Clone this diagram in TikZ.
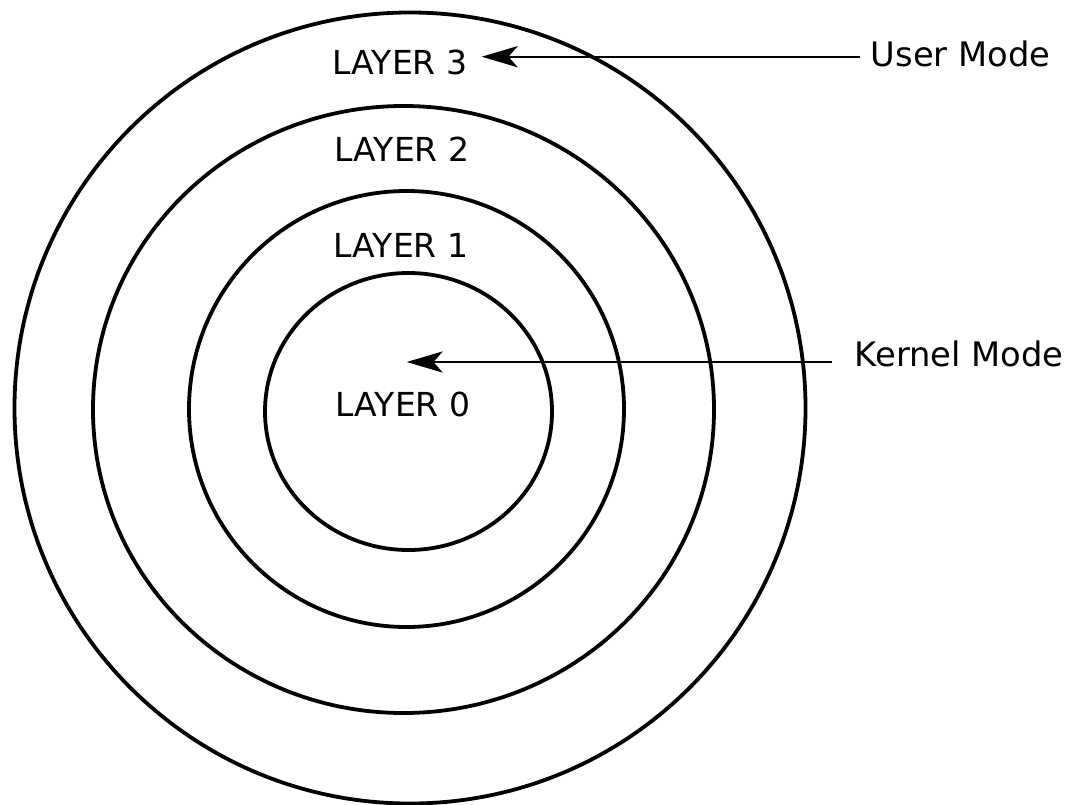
\documentclass[tikz,border=0pt]{standalone}
\usepackage{fontspec}
\setmainfont{DejaVu Sans}
\usetikzlibrary{positioning}
\usetikzlibrary{arrows.meta}
\tikzset{ring/.style={draw, line width=0.95mm}}
\tikzset{lay/.style={anchor=base, inner sep=0pt, font=\fontsize{23.5}{28}\selectfont}}
\tikzset{mode/.style={anchor=base west, inner sep=0pt, font=\fontsize{24}{28}\selectfont}}
\tikzset{ptr/.style={line width=0.5mm, -{Stealth[length=9mm, width=5.3mm, inset=2.3mm]}}}

\begin{document}
\begin{tikzpicture}[x=0.25mm, y=-0.25mm]
        \useasboundingbox (0,0) rectangle (1076,804);

        % the four rings
        \draw[ring] (410,408) circle [radius=98.875mm];
        \draw[ring] (403.5,409.5) ellipse [x radius=77.625mm, y radius=75.875mm];
        \draw[ring] (406.5,409) ellipse [x radius=54.375mm, y radius=54.5mm];
        \draw[ring] (408.5,411.5) ellipse [x radius=35.875mm, y radius=34.625mm];

        \node[lay] (L3) at (400,74.3) {LAYER 3};
        \node[lay] (L2) at (402,161.7) {LAYER 2};
        \node[lay] (L1) at (401,257.3) {LAYER 1};
        \node[lay] (L0) at (403,416) {LAYER 0};

        \node[mode] (user) at (870.5,67) {User Mode};
        \node[mode] (kernel) at (854.5,366) {Kernel Mode};

        \coordinate (us) at (860,56.7);
        \coordinate (ut) at (481.7,56.7);
        \coordinate (ks) at (831.7,362);
        \coordinate (kt) at (406.7,362);

        \draw[ptr] (us) -- (ut);
        \draw[ptr] (ks) -- (kt);

    \end{tikzpicture}
\end{document}
